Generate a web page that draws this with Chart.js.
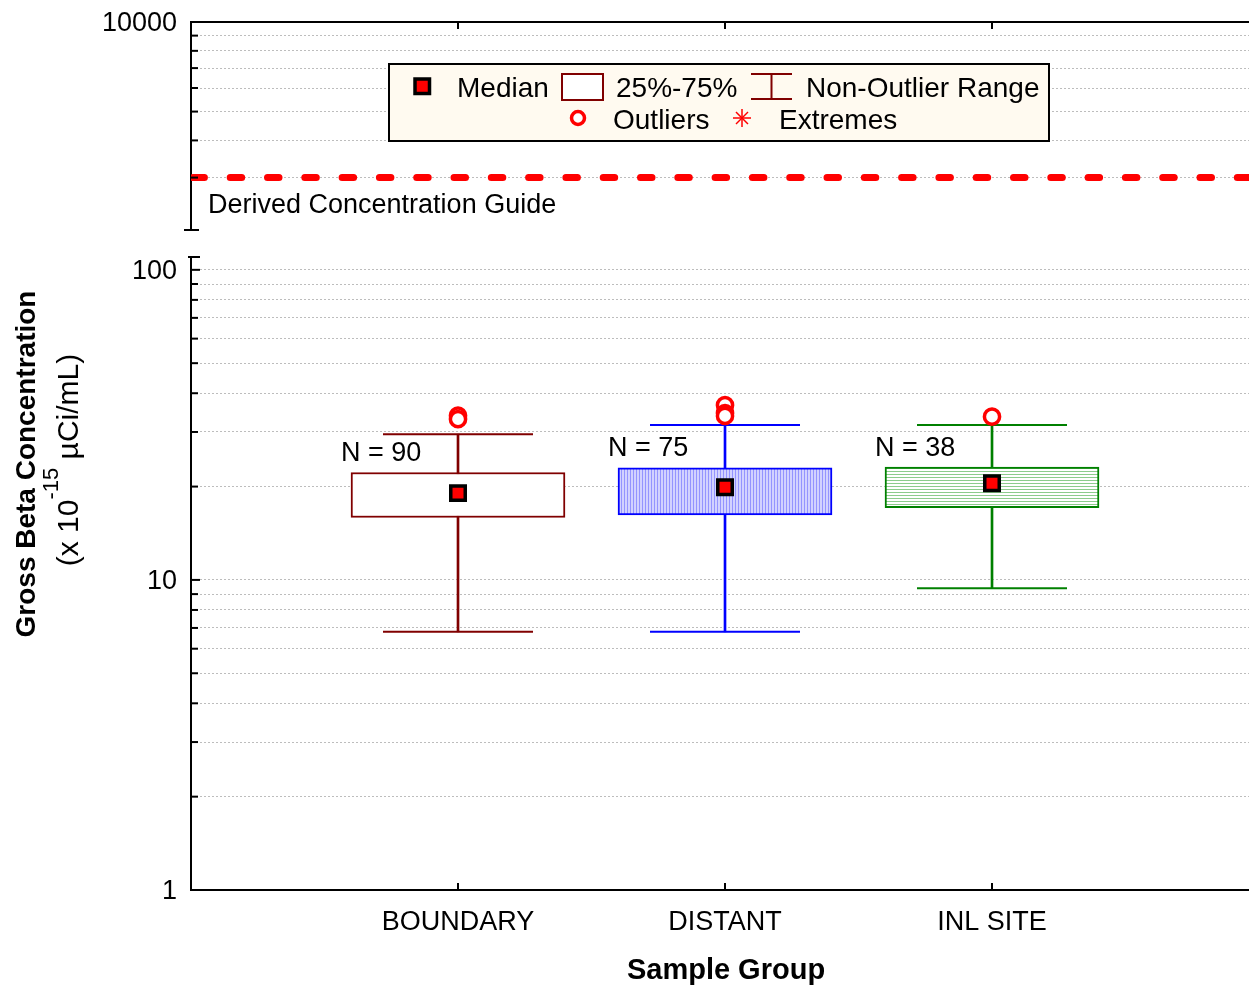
<!DOCTYPE html>
<html><head><meta charset="utf-8">
<script src="https://cdn.jsdelivr.net/npm/chart.js@4"></script>
<style>html,body{margin:0;padding:0;background:#fff;}#wrap{width:1249px;height:985px;position:relative;}</style>
</head><body><div id="wrap"><canvas id="c"></canvas></div>
<script>
// ---- data ----
const categories = ['BOUNDARY', 'DISTANT', 'INL SITE'];
const sampleCounts = [90, 75, 38];
const whiskerLow = [6.8, 6.8, 9.4];
const quartile1 = [15.9, 16.2, 17.1];
const medians = [19.05, 19.9, 20.5];
const quartile3 = [22.2, 23.0, 23.1];
const whiskerHigh = [29.5, 31.6, 31.6];
const outliers = [[33.9, 33.0], [36.6, 34.5, 33.8], [33.6]];
const dcgValue = 3000;
const dcgLabel = 'Derived Concentration Guide';
const lowerTicks = [1, 2, 3, 4, 5, 6, 7, 8, 9, 10, 20, 30, 40, 50, 60, 70, 80, 90, 100];
const upperTicks = [3000, 4000, 5000, 6000, 7000, 8000, 9000, 10000];
const labelledTicks = [1, 10, 100, 10000];
const xTitle = 'Sample Group';
const yTitleLine1 = 'Gross Beta Concentration';
const yTitleLine2 = ['(x 10', '-15', ' \u00B5Ci/mL)'];
const legendRow1 = ['Median', '25%-75%', 'Non-Outlier Range'];
const legendRow2 = ['Outliers', 'Extremes'];

// ---- styles ----
const FONT = '"Liberation Sans", Arial, sans-serif';
const groupColors = ['#800000', '#0000ff', '#008000'];
const X_MAX = 3.9625;
const xs = categories.map((_, i) => i + 1);

Chart.defaults.font.family = FONT;
Chart.defaults.color = '#000';

const ctx = document.getElementById('c').getContext('2d');
function makePattern(bg, fg, vertical) {
  const c = document.createElement('canvas');
  c.width = 3; c.height = 3;
  const g = c.getContext('2d');
  g.fillStyle = bg; g.fillRect(0, 0, 3, 3);
  g.fillStyle = fg;
  if (vertical) g.fillRect(0, 0, 1, 3); else g.fillRect(0, 0, 3, 1);
  return ctx.createPattern(c, 'repeat');
}
const bluePattern = makePattern('#d2d2ff', '#9494ff', true);
const greenPattern = makePattern('#ffffff', '#8ccc8c', false);

const gridStyle = { color: '#bdbdbd', lineWidth: 1, drawTicks: false };
const borderStyle = { display: true, color: '#000', width: 2, dash: [2, 2] };
const tickFont = { family: FONT, size: 27 };
const tickLabel = v => labelledTicks.includes(v) ? String(v) : '';
const fitY = s => { s.width = 191; s.paddingTop = 0; s.paddingBottom = 0; };

const decor = {
  id: 'decor',
  afterDraw(chart) {
    const c = chart.ctx;
    const { left, right, top, bottom } = chart.chartArea;
    const sx = chart.scales.x, yT = chart.scales.yTop, yB = chart.scales.y;
    const line = (x1, y1, x2, y2) => { c.beginPath(); c.moveTo(x1, y1); c.lineTo(x2, y2); c.stroke(); };
    c.save();
    c.strokeStyle = '#000'; c.lineWidth = 2; c.lineCap = 'butt';
    line(left - 1, top, right, top);
    xs.forEach(v => {
      const px = sx.getPixelForValue(v);
      line(px, top, px, top + 7);
      line(px, bottom, px, bottom - 7);
    });
    [yT, yB].forEach(s => s.ticks.forEach(t => {
      const py = s.getPixelForValue(t.value);
      line(s.right, py, s.right + (labelledTicks.includes(t.value) ? 9 : 7), py);
    }));
    line(yT.right - 7, yT.bottom, yT.right + 8, yT.bottom);
    line(yB.right - 3, yB.top, yB.right + 9, yB.top);

    // group annotations
    c.fillStyle = '#000';
    c.font = '27px ' + FONT;
    c.textAlign = 'left'; c.textBaseline = 'middle';
    xs.forEach((v, i) => {
      const px = sx.getPixelForValue(v);
      const py = yB.getPixelForValue(quartile3[i]);
      c.fillText('N = ' + sampleCounts[i], px - 117, py - 19);
    });
    c.fillText(dcgLabel, left + 17, yT.getPixelForValue(dcgValue) + 28);

    // x title
    c.font = 'bold 29px ' + FONT; c.textAlign = 'center';
    c.fillText(xTitle, sx.getPixelForValue(2) + 1, 971);

    // y title
    c.save();
    c.translate(27, 464); c.rotate(-Math.PI / 2);
    c.textAlign = 'center';
    c.font = 'bold 28px ' + FONT;
    c.fillText(yTitleLine1, 0, 0);
    c.restore();
    c.save();
    c.translate(68, 460); c.rotate(-Math.PI / 2);
    c.textAlign = 'left'; c.textBaseline = 'alphabetic';
    const mainF = '30px ' + FONT, supF = '22px ' + FONT;
    c.font = mainF; const w0 = c.measureText(yTitleLine2[0]).width, w2 = c.measureText(yTitleLine2[2]).width;
    c.font = supF; const w1 = c.measureText(yTitleLine2[1]).width;
    let x0 = -(w0 + w1 + w2) / 2;
    c.font = mainF; c.fillText(yTitleLine2[0], x0, 10);
    c.font = supF; c.fillText(yTitleLine2[1], x0 + w0, -10);
    c.font = mainF; c.fillText(yTitleLine2[2], x0 + w0 + w1, 10);
    c.restore();

    // legend
    const L = { x: 389, y: 64, w: 660, h: 77 };
    c.fillStyle = '#fffaf0';
    c.fillRect(L.x, L.y, L.w, L.h);
    c.strokeStyle = '#000'; c.lineWidth = 2;
    c.strokeRect(L.x, L.y, L.w, L.h);
    const r1 = 89, r2 = 121;
    c.fillStyle = '#ff0000'; c.fillRect(415, 79, 14.5, 14.5);
    c.lineWidth = 3.5; c.strokeStyle = '#000'; c.strokeRect(415, 79, 14.5, 14.5);
    c.lineWidth = 2; c.strokeStyle = groupColors[0]; c.fillStyle = '#fff';
    c.fillRect(562, 74, 41, 26); c.strokeRect(562, 74, 41, 26);
    line(751, 74, 792, 74); line(751, 99, 792, 99); line(771.5, 74, 771.5, 99);
    c.strokeStyle = '#ff0000'; c.lineWidth = 3.5; c.fillStyle = '#fff';
    c.beginPath(); c.arc(578, 118, 6.5, 0, Math.PI * 2); c.fill(); c.stroke();
    c.lineWidth = 1.5;
    line(742, 109, 742, 127); line(733, 118, 751, 118);
    line(736, 112, 748, 124); line(748, 112, 736, 124);
    c.fillStyle = '#000'; c.font = '28px ' + FONT; c.textAlign = 'left'; c.textBaseline = 'middle';
    c.fillText(legendRow1[0], 457, r1);
    c.fillText(legendRow1[1], 616, r1);
    c.fillText(legendRow1[2], 806, r1);
    c.fillText(legendRow2[0], 613, r2);
    c.fillText(legendRow2[1], 779, r2);
    c.restore();
  }
};

new Chart(ctx, {
  data: {
    datasets: [
      { type: 'line', yAxisID: 'yTop', data: [{ x: 0, y: dcgValue }, { x: X_MAX, y: dcgValue }],
        borderColor: '#ff0000', borderWidth: 7, borderDash: [11.5, 25.8], borderDashOffset: 35.4,
        borderCapStyle: 'round', pointRadius: 0, clip: 0, order: 7 },
      { type: 'bar', yAxisID: 'y', data: xs.map((x, i) => ({ x, y: [whiskerLow[i], whiskerHigh[i]] })),
        backgroundColor: groupColors, borderWidth: 0, barThickness: 2, grouped: false, order: 6 },
      { type: 'bar', yAxisID: 'y', data: xs.map((x, i) => ({ x, y: [quartile1[i], quartile3[i]] })),
        backgroundColor: ['#ffffff', bluePattern, greenPattern], borderColor: groupColors,
        borderWidth: 2, borderSkipped: false, barThickness: 214, grouped: false, order: 5 },
      { type: 'scatter', yAxisID: 'y',
        data: [...xs.map((x, i) => ({ x, y: whiskerLow[i] })), ...xs.map((x, i) => ({ x, y: whiskerHigh[i] }))],
        pointStyle: 'line', pointRadius: 75, pointHoverRadius: 75,
        pointBorderColor: [...groupColors, ...groupColors], pointBorderWidth: 2, order: 4 },
      { type: 'scatter', yAxisID: 'y', data: xs.map((x, i) => ({ x, y: medians[i] })),
        pointStyle: 'rect', pointRadius: 10.25, pointHoverRadius: 10.25, pointBackgroundColor: '#ff0000',
        pointBorderColor: '#000', pointBorderWidth: 3.5, order: 2 },
      { type: 'scatter', yAxisID: 'y',
        data: outliers.flatMap((arr, i) => arr.map(v => ({ x: xs[i], y: v }))),
        pointStyle: 'circle', pointRadius: 7.6, pointHoverRadius: 7.6, pointBackgroundColor: '#fff',
        pointBorderColor: '#ff0000', pointBorderWidth: 3.5, order: 1 }
    ]
  },
  options: {
    responsive: true, maintainAspectRatio: false, animation: false,
    events: [],
    layout: { autoPadding: false, padding: { top: 22, left: 0, right: 0, bottom: 0 } },
    plugins: { legend: { display: false }, tooltip: { enabled: false } },
    scales: {
      x: {
        type: 'linear', position: 'bottom', min: 0, max: X_MAX, offset: false,
        afterBuildTicks: s => { s.ticks = xs.map(v => ({ value: v })); },
        afterFit: s => { s.height = 95; s.paddingLeft = 0; s.paddingRight = 0; },
        ticks: { font: tickFont, padding: 16, autoSkip: false, maxRotation: 0, callback: (v, i) => categories[i] },
        grid: { display: false, drawTicks: false, offset: false },
        border: { display: true, color: '#000', width: 2 },
        title: { display: false, text: xTitle }
      },
      yTop: {
        type: 'logarithmic', position: 'left', stack: 'yy', stackWeight: 208, weight: 3,
        min: 2000, max: 10000,
        afterBuildTicks: s => { s.ticks = upperTicks.map(v => ({ value: v })); },
        afterFit: fitY,
        ticks: { font: tickFont, padding: 14, labelOffset: 2, autoSkip: false, callback: v => tickLabel(v) },
        grid: gridStyle, border: borderStyle
      },
      yGap: {
        type: 'linear', position: 'left', stack: 'yy', stackWeight: 27, weight: 2,
        afterFit: fitY,
        ticks: { display: false }, grid: { display: false, drawTicks: false }, border: { display: false }
      },
      y: {
        type: 'logarithmic', position: 'left', stack: 'yy', stackWeight: 633, weight: 1,
        min: 1, max: 110,
        afterBuildTicks: s => { s.ticks = lowerTicks.map(v => ({ value: v })); },
        afterFit: fitY,
        ticks: { font: tickFont, padding: 14, labelOffset: 2, autoSkip: false, callback: v => tickLabel(v) },
        grid: gridStyle, border: borderStyle
      }
    }
  },
  plugins: [decor]
});
</script>
</body></html>
